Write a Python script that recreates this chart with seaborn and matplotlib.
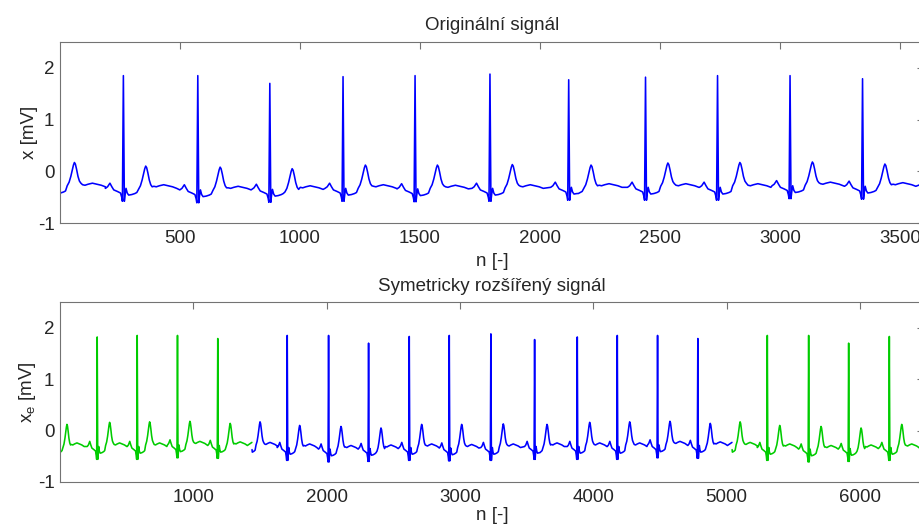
import numpy as np
import matplotlib
matplotlib.use("Agg")
import matplotlib.pyplot as plt
import seaborn as sns

# R-peak positions [samples], R amplitudes, T amplitudes and baseline shift per beat [mV]
r_pos = [-32, 265, 575, 875, 1180, 1480, 1792, 2120, 2440, 2740, 3042, 3344]
r_amp = [1.85, 1.85, 1.85, 1.70, 1.83, 1.85, 1.88, 1.77, 1.82, 1.85, 1.85, 1.79]
t_amp = [0.17, 0.10, 0.08, 0.05, 0.12, 0.12, 0.13, 0.12, 0.16, 0.17, 0.18, 0.14]
shift = [0.03, 0.00, -0.03, -0.02, 0.00, -0.01, 0.00, 0.02, 0.02, 0.02, 0.05, 0.04]

# one heartbeat (P, QRS, ST and diastole): offset from R, value [mV]
beat_off = [-75, -66, -56, -48, -40, -25, -12, -7, -4, 0, 4, 7, 11, 16, 22, 35,
            48, 56, 127, 137, 150, 168, 186, 205, 222]
beat_val = [-0.33, -0.30, -0.23, -0.30, -0.36, -0.39, -0.42, -0.50, -0.58, 0.0,
            -0.58, -0.45, -0.33, -0.42, -0.46, -0.45, -0.43, -0.41,
            -0.29, -0.30, -0.28, -0.26, -0.28, -0.30, -0.33]
# T wave: offset from R and depth below the T peak [mV]
t_off = [63, 71, 78, 84, 89, 93, 97, 102, 108, 114, 120]
t_drop = [0.45, 0.38, 0.27, 0.15, 0.05, 0.0, 0.03, 0.13, 0.27, 0.36, 0.40]

# samples at the record ends and at the extension split points
edge_n = [1, 1440, 2160, 3600]
edge_v = [-0.37, -0.37, -0.43, -0.23]

N = 3600
EXT = 1440

ri = beat_off.index(0)
ns, vs = [], []
for r, ra, ta, sh in zip(r_pos, r_amp, t_amp, shift):
    bv = np.array(beat_val) + sh
    bv[ri] = ra
    tv = ta - np.array(t_drop)
    ns.append(r + np.concatenate([beat_off, t_off]))
    vs.append(np.concatenate([bv, tv]))
n = np.concatenate(ns)
v = np.concatenate(vs)
keep = (n >= 1) & (n <= N) & ~np.isin(n, edge_n)
n = np.concatenate([n[keep], edge_n])
v = np.concatenate([v[keep], edge_v])
order = np.argsort(n, kind="stable")
n, v = n[order], v[order]

sns.set_style("white")
plt.rcParams["font.family"] = ["Liberation Sans", "DejaVu Sans"]
plt.rcParams["mathtext.default"] = "regular"
plt.rcParams["axes.unicode_minus"] = False

fig = plt.figure(figsize=(9.2, 5.26), dpi=100)
ax1 = fig.add_axes([60 / 920, 1 - 223 / 526, 864 / 920, 181 / 526])
ax2 = fig.add_axes([60 / 920, 1 - 482 / 526, 864 / 920, 180 / 526])

blue = (0, 0, 1)
green = (0, 0.8, 0)
lw = 1.15

sns.lineplot(x=n, y=v, ax=ax1, color=blue, lw=lw, estimator=None, sort=False)

left = n >= N - EXT
right = n <= EXT
sns.lineplot(x=n[left] - (N - EXT), y=v[left], ax=ax2, color=green, lw=lw,
             estimator=None, sort=False)
sns.lineplot(x=n + EXT, y=v, ax=ax2, color=blue, lw=lw, estimator=None, sort=False)
sns.lineplot(x=n[right] + EXT + N, y=v[right], ax=ax2, color=green, lw=lw,
             estimator=None, sort=False)

ax1.set_xlim(1, N)
ax2.set_xlim(1, N + 2 * EXT)
ax1.set_xticks([500, 1000, 1500, 2000, 2500, 3000, 3500])
ax2.set_xticks([1000, 2000, 3000, 4000, 5000, 6000])
for ax in (ax1, ax2):
    ax.set_ylim(-1, 2.5)
    ax.set_yticks([-1, 0, 1, 2])
    ax.tick_params(direction="in", length=5, width=0.8, color="0.45",
                   labelsize=13.5, top=True, right=True)
    ax.tick_params(axis="x", pad=5)
    ax.tick_params(axis="y", pad=4)
    for s in ax.spines.values():
        s.set_color("0.45")
        s.set_linewidth(0.8)

ax1.set_xlabel("n [-]", fontsize=13.5, labelpad=4)
ax2.set_xlabel("n [-]", fontsize=13.5, labelpad=1)
ax1.set_ylabel("x [mV]", fontsize=13.5, labelpad=0)
ax2.set_ylabel("$x_e$ [mV]", fontsize=13.5, labelpad=0)
ax1.set_title("Originální signál", fontsize=13.5, pad=9)
ax2.set_title("Symetricky rozšířený signál", fontsize=13.5, pad=8)

fig.savefig("out.png", dpi=100)
